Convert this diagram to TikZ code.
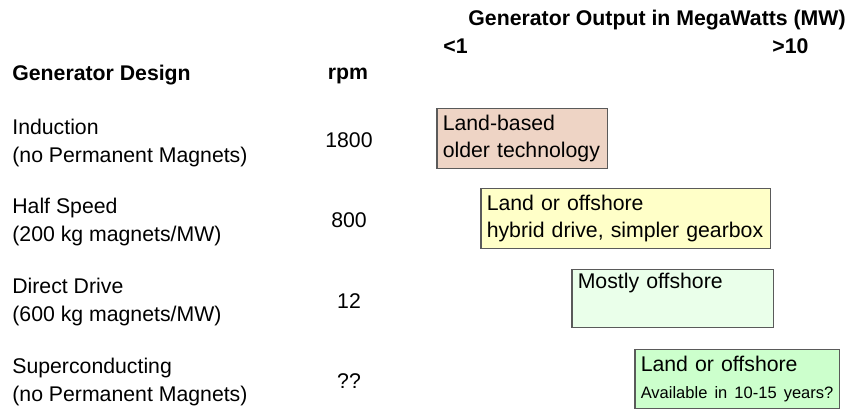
\documentclass[tikz,border=0pt]{standalone}
\usepackage{fontspec}
\setmainfont{Liberation Sans}
\definecolor{boxline}{HTML}{5A5A5A}
\definecolor{oldfill}{HTML}{EED4C5}
\definecolor{hybridfill}{HTML}{FFFFC8}
\definecolor{directfill}{HTML}{EAFFEA}
\definecolor{superfill}{HTML}{CCFFCC}
\begin{document}
\begin{tikzpicture}[
        x=0.02cm, y=-0.02cm,
        every node/.style={font=\fontsize{12.1}{15.3}\selectfont, inner sep=0pt},
        headtext/.style={font=\fontsize{12.1}{15.3}\selectfont\bfseries},
        designtext/.style={anchor=base west, align=left, font=\fontsize{12.1}{15.6}\selectfont},
        rpmtext/.style={anchor=base},
        mwbox/.style={rectangle, draw=boxline, line width=0.85pt, anchor=north west, align=left, inner xsep=0.12cm, inner ysep=0pt}
        ]
        
        \useasboundingbox (0,0) rectangle (851,409);
        
        \node[headtext, anchor=base] (output) at (657,25) {Generator Output in MegaWatts (MW)};
        \node[headtext, anchor=base west] (low) at (443,53) {<1};
        \node[headtext, anchor=base west] (high) at (772,53) {>10};
        \node[headtext, anchor=base west] (design) at (12,80) {Generator Design};
        \node[headtext, anchor=base] (rpm) at (348,79) {rpm};
        
        \node[designtext] (induction) at (12,162) {Induction\\(no Permanent Magnets)};
        \node[designtext] (halfspeed) at (12,241) {Half Speed\\(200 kg magnets/MW)};
        \node[designtext] (directdrive) at (12,321) {Direct Drive\\(600 kg magnets/MW)};
        \node[designtext] (superconducting) at (12,401) {Superconducting\\(no Permanent Magnets)};
        
        \node[rpmtext] (rpminduction) at (349,147) {1800};
        \node[rpmtext] (rpmhalfspeed) at (349,227) {800};
        \node[rpmtext] (rpmdirectdrive) at (349,308) {12};
        \node[rpmtext] (rpmsuperconducting) at (349,388) {??};
        
        \node[mwbox, fill=oldfill, text width=3.18cm, minimum height=1.2cm] (landbased) at (436,108) {Land-based\\older technology};
        \node[mwbox, fill=hybridfill, text width=5.56cm, minimum height=1.2cm] (hybrid) at (480,188) {Land or offshore\\hybrid drive, simpler gearbox};
        \node[mwbox, fill=directfill, text width=3.8cm, minimum height=1.16cm] (offshore) at (571,269) {Mostly offshore\\\strut};
        \node[mwbox, fill=superfill, text width=3.86cm, minimum height=1.18cm] (future) at (634,349) {Land or offshore\\\mbox{\fontsize{9.4}{13.6}\selectfont Available in 10-15 years?}};
        
    \end{tikzpicture}
\end{document}
